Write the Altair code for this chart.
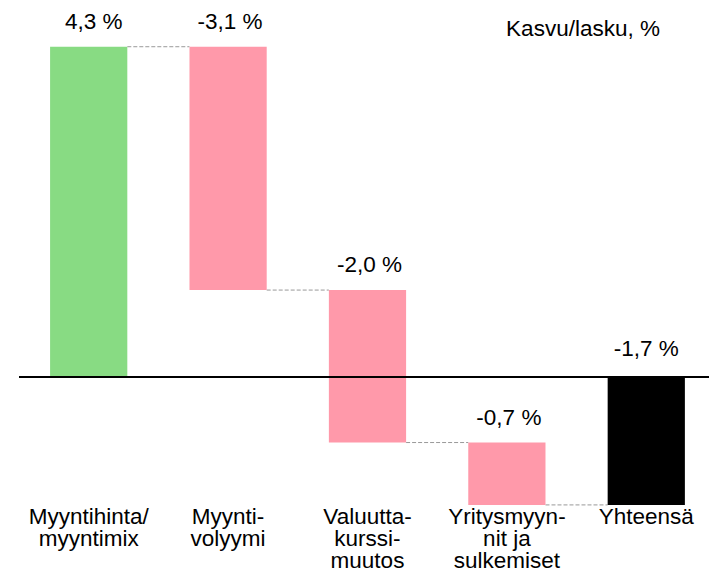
import altair as alt
import pandas as pd

# --- data ---
categories = ["Myyntihinta/|myyntimix", "Myynti-|volyymi", "Valuutta-|kurssi-|muutos",
              "Yritysmyyn-|nit ja|sulkemiset", "Yhteensä"]
changes = [4.29, -3.16, -1.98, -0.81]
total = -1.66
value_labels = ["4,3 %", "-3,1 %", "-2,0 %", "-0,7 %", "-1,7 %"]
kinds = ["up", "down", "down", "down", "total"]
annotation = ["Kasvu/lasku, %"]

HALF = 0.277  # half bar width, in category steps
YMIN, YMAX = -1.7, 4.78
XMIN, XMAX = -0.5, 4.45

# --- build waterfall table ---
rows = []
cum = 0.0
for i, (ch, lab, kind) in enumerate(zip(changes, value_labels[:-1], kinds[:-1])):
    start, end = cum, cum + ch
    rows.append(dict(idx=i, start=start, end=end, top=max(start, end), label=lab, kind=kind))
    cum = end
rows.append(dict(idx=len(categories) - 1, start=0.0, end=total, top=max(0.0, total),
                 label=value_labels[-1], kind=kinds[-1]))
bars_df = pd.DataFrame(rows)
bars_df["x0"] = bars_df["idx"] - HALF
bars_df["x1"] = bars_df["idx"] + HALF
bars_df["cat"] = categories
bars_df["base"] = YMIN

conn_df = pd.DataFrame({
    "x0": [r["idx"] + HALF for r in rows[:-1]],
    "x1": [r["idx"] + 1 - HALF for r in rows[:-1]],
    "level": [r["end"] for r in rows[:-1]],
})

FONT = "Liberation Sans"
FS = 22.5
yscale = alt.Scale(domain=[YMIN, YMAX], nice=False, zero=False)
xscale = alt.Scale(domain=[XMIN, XMAX], nice=False, zero=False)


def X(f):
    return alt.X(f, type="quantitative", scale=xscale, axis=None)


def Y(f):
    return alt.Y(f, type="quantitative", scale=yscale, axis=None)


base = alt.Chart(bars_df)

bars = base.mark_bar().encode(
    x=X("x0"), x2="x1",
    y=Y("start"), y2="end",
    color=alt.Color("kind:N", scale=alt.Scale(domain=["up", "down", "total"],
                                              range=["#88DB83", "#FF99AA", "#000000"]),
                    legend=None),
)


def value_text(kind, dx, dy):
    return base.transform_filter(alt.datum.kind == kind).mark_text(
        font=FONT, fontSize=FS, baseline="alphabetic", dx=dx, dy=dy, color="black"
    ).encode(x=X("idx"), y=Y("top"), text="label:N")


labels_up = value_text("up", 5, -18)
labels_down = value_text("down", 2, -18)
labels_total = value_text("total", 0, -21.5)

cat_labels = base.mark_text(font=FONT, fontSize=FS, baseline="alphabetic", dy=16,
                            lineBreak="|", lineHeight=22, color="black").encode(
    x=X("idx"), y=Y("base"), text="cat:N",
)

connectors = alt.Chart(conn_df).mark_rule(color="#999999", strokeWidth=1,
                                          strokeDash=[4, 2]).encode(
    x=X("x0"), x2="x1", y=Y("level"),
)

zero_line = alt.Chart(pd.DataFrame({"z": [0.0]})).mark_rule(
    color="black", strokeWidth=2).encode(y=Y("z"))

note_df = pd.DataFrame({"t": annotation, "nx": [4.098], "ny": [YMAX]})
note = alt.Chart(note_df).mark_text(
    font=FONT, fontSize=FS, align="right", baseline="alphabetic", dy=27,
    color="black").encode(x=X("nx"), y=Y("ny"), text="t:N")

chart = alt.layer(connectors, bars, zero_line, labels_up, labels_down, labels_total,
                  cat_labels, note).properties(
    width=690, height=499,
    padding={"left": 11, "top": 1, "right": 0, "bottom": 66},
    autosize=alt.AutoSizeParams(type="none"),
).configure_view(stroke=None)

chart.save("out.html", embed_options={"renderer": "svg", "actions": False})
